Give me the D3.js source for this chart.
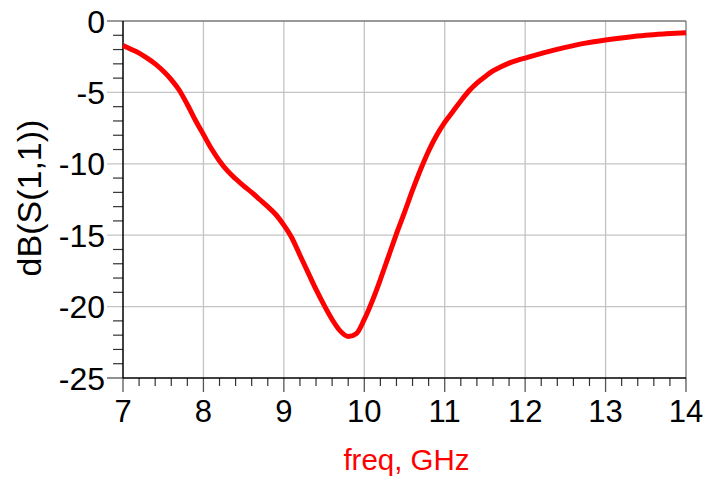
<!DOCTYPE html>
<html lang="en">
<head>
  <title>dB(S(1,1))</title>
  <meta charset="UTF-8">
  <style>
    body { margin: 0; background: #fff; font-family: "Liberation Sans", Arial, sans-serif; }
  </style>
  <script src="https://cdn.jsdelivr.net/npm/d3@7"></script>
</head>
<body>
<script>
  // values
  var freq = [7.0, 7.1, 7.2, 7.3, 7.4, 7.5, 7.6, 7.7, 7.8, 7.9,
              8.0, 8.1, 8.2, 8.3, 8.4, 8.5, 8.6, 8.7, 8.8, 8.9,
              9.0, 9.1, 9.2, 9.3, 9.4, 9.5, 9.6, 9.7, 9.8, 9.9,
              10.0, 10.1, 10.2, 10.3, 10.4, 10.5, 10.6, 10.7, 10.8, 10.9,
              11.0, 11.1, 11.2, 11.3, 11.4, 11.5, 11.6, 11.7, 11.8, 11.9,
              12.0, 12.25, 12.5, 12.75, 13.0, 13.25, 13.5, 13.75, 14.0];
  var s11 = [-1.72, -1.98, -2.25, -2.6, -3.0, -3.5, -4.1, -4.85, -5.85, -6.95,
             -7.95, -8.95, -9.8, -10.5, -11.05, -11.55, -12.0, -12.5, -13.0, -13.55,
             -14.3, -15.2, -16.4, -17.6, -18.8, -19.9, -20.9, -21.7, -22.1, -21.9,
             -20.9, -19.6, -18.1, -16.5, -14.9, -13.4, -11.85, -10.4, -9.1, -8.0,
             -7.1, -6.35, -5.6, -4.9, -4.35, -3.9, -3.5, -3.2, -2.95, -2.75,
             -2.6, -2.2, -1.85, -1.55, -1.33, -1.15, -1.0, -0.9, -0.82];
  var xTicks = [7, 8, 9, 10, 11, 12, 13, 14];
  var yTicks = [0, -5, -10, -15, -20, -25];

  var W = 703, H = 480;
  var m = {left: 123, right: 17, top: 21, bottom: 102};
  var w = W - m.left - m.right, h = H - m.top - m.bottom;

  var data = freq.map(function(f, i) { return {f: f, v: s11[i]}; });

  var x = d3.scaleLinear().domain([7, 14]).range([0, w]);
  var y = d3.scaleLinear().domain([-25, 0]).range([h, 0]);

  var svg = d3.select("body").append("svg")
    .attr("width", W).attr("height", H);
  var g = svg.append("g").attr("transform", "translate(" + m.left + "," + m.top + ")");

  // grid
  g.append("g").selectAll("line").data(xTicks.slice(1, -1)).enter().append("line")
    .attr("x1", d => x(d)).attr("x2", d => x(d))
    .attr("y1", 0).attr("y2", h)
    .attr("stroke", "#c4c4c4").attr("stroke-width", 1.3);
  g.append("g").selectAll("line").data(yTicks.slice(1, -1)).enter().append("line")
    .attr("x1", -16).attr("x2", w)
    .attr("y1", d => y(d)).attr("y2", d => y(d))
    .attr("stroke", "#c4c4c4").attr("stroke-width", 1.3);

  // frame top/right
  g.append("line").attr("x1", -16).attr("x2", w).attr("y1", 0).attr("y2", 0)
    .attr("stroke", "#777").attr("stroke-width", 1.3);
  g.append("line").attr("x1", w).attr("x2", w).attr("y1", 0).attr("y2", h)
    .attr("stroke", "#777").attr("stroke-width", 1.3);

  // minor ticks
  var yMinor = d3.range(-25, 0.01, 1).filter(d => d % 5 !== 0);
  g.append("g").selectAll("line").data(yMinor).enter().append("line")
    .attr("x1", -10).attr("x2", 0)
    .attr("y1", d => y(d)).attr("y2", d => y(d))
    .attr("stroke", "#333").attr("stroke-width", 1.2);
  var xMinor = d3.range(7, 14.001, 0.2).filter(d => Math.abs(d - Math.round(d)) > 0.01);
  g.append("g").selectAll("line").data(xMinor).enter().append("line")
    .attr("x1", d => x(d)).attr("x2", d => x(d))
    .attr("y1", h).attr("y2", h + 8)
    .attr("stroke", "#333").attr("stroke-width", 1.2);
  g.append("g").selectAll("line").data(xTicks).enter().append("line")
    .attr("x1", d => x(d)).attr("x2", d => x(d))
    .attr("y1", h).attr("y2", h + 14)
    .attr("stroke", "#555").attr("stroke-width", 1.3);
  g.append("line").attr("x1", -16).attr("x2", 0).attr("y1", h).attr("y2", h)
    .attr("stroke", "#555").attr("stroke-width", 1.3);

  // axis lines
  g.append("line").attr("x1", 0).attr("x2", w).attr("y1", h).attr("y2", h)
    .attr("stroke", "#000").attr("stroke-width", 1.5);
  g.append("line").attr("x1", 0).attr("x2", 0).attr("y1", 0).attr("y2", h)
    .attr("stroke", "#000").attr("stroke-width", 1.5);

  // tick labels
  g.append("g").selectAll("text").data(yTicks).enter().append("text")
    .attr("x", -18).attr("y", d => y(d)).attr("dy", "0.36em")
    .attr("text-anchor", "end").attr("font-size", 32).attr("fill", "#000")
    .text(d => d);
  g.append("g").selectAll("text").data(xTicks).enter().append("text")
    .attr("x", d => x(d)).attr("y", h + 44)
    .attr("text-anchor", "middle").attr("font-size", 31).attr("fill", "#000")
    .text(d => d);

  // axis titles
  svg.append("text")
    .attr("x", m.left + w / 2 + 2).attr("y", 470)
    .attr("text-anchor", "middle").attr("font-size", 29.5).attr("fill", "#ff0000")
    .text("freq, GHz");
  svg.append("text")
    .attr("transform", "translate(41,198) rotate(-90)")
    .attr("text-anchor", "middle").attr("font-size", 34).attr("fill", "#000")
    .text("dB(S(1,1))");

  // curve
  var line = d3.line().x(d => x(d.f)).y(d => y(d.v)).curve(d3.curveMonotoneX);
  g.append("path").datum(data)
    .attr("d", line)
    .attr("fill", "none").attr("stroke", "#ff0000").attr("stroke-width", 5)
    .attr("stroke-linejoin", "round");
</script>
</body>
</html>
